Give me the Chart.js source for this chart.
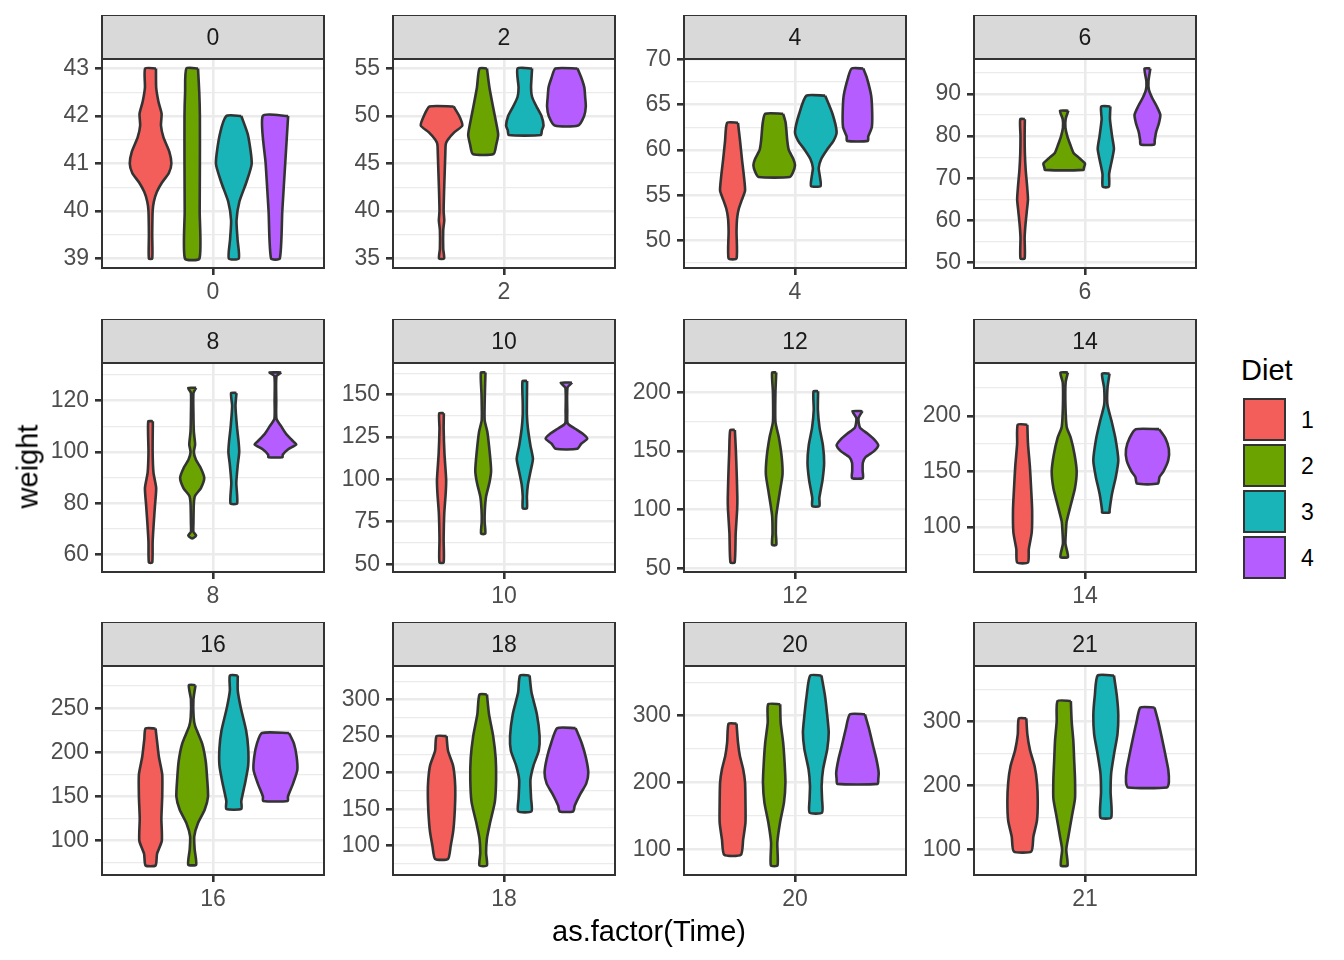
<!DOCTYPE html>
<html>
<head>
<meta charset="utf-8">
<script src="https://cdn.jsdelivr.net/npm/chart.js@4.4.1/dist/chart.umd.min.js"></script>
<style>
  body { margin: 0; background: #fff; width: 1344px; height: 960px; position: relative; overflow: hidden;
         font-family: "Liberation Sans", Arial, Helvetica, sans-serif; }
  canvas { position: absolute; }
  .txt { position: absolute; white-space: nowrap; color: #000; }
  .key { position: absolute; box-sizing: border-box; border: 2.5px solid #333; }
</style>
</head>
<body>
<script>
const times = [0, 2, 4, 6, 8, 10, 12, 14, 16, 18, 20, 21];
const diets = ['1', '2', '3', '4'];
const dietColors = ['#F35E5A', '#6BA300', '#18B4B8', '#B55DFF'];

// major y breaks, one list per facet
const yBreaks = [
  [39, 40, 41, 42, 43], [35, 40, 45, 50, 55], [50, 55, 60, 65, 70], [50, 60, 70, 80, 90],
  [60, 80, 100, 120], [50, 75, 100, 125, 150], [50, 100, 150, 200], [100, 150, 200],
  [100, 150, 200, 250], [100, 150, 200, 250, 300], [100, 200, 300], [100, 200, 300]
];

// violin outlines: [weight, relative half width], top to bottom, diets 1..4
const t0 = [
  [[43, .26], [42.6, .27], [42.3, .38], [42.05, .53], [41.8, .5], [41.55, .62], [41.25, .9], [41, 1], [40.8, .88], [40.6, .55], [40.4, .3], [40.2, .16], [40, .1], [39.5, .08], [39, .08]],
  [[43, .28], [42.5, .34], [42, .37], [41, .37], [40, .36], [39, .35]],
  [[42, .36], [41.6, .68], [41, .86], [40.6, .6], [40.2, .27], [39.8, .13], [39.4, .18], [39, .24]],
  [[42, .61], [41, .47], [40, .33], [39, .21]]
];
const t2 = [
  [[51, .58], [50, .85], [49, 1], [48.3, .62], [47.5, .3], [47, .2], [46, .18], [44, .15], [42, .12], [40, .1], [39, .13], [38, .08], [36, .08], [35, .12]],
  [[55, .18], [53, .3], [51, .47], [49, .65], [48, .72], [47, .63], [46, .5]],
  [[55, .35], [53, .3], [52, .35], [51, .56], [50, .8], [49, .9], [48.5, .82], [48, .77]],
  [[55, .53], [54, .72], [53, .86], [52, .9], [51, .93], [50, .85], [49, .56]]
];
const t4 = [
  [[63, .26], [61, .36], [59, .45], [57, .55], [55.5, .6], [54.5, .45], [53.5, .3], [52.5, .22], [51, .19], [48, .19]],
  [[64, .43], [63, .55], [61, .63], [60, .7], [59, .92], [58.3, 1], [57.5, .9], [57, .75]],
  [[66, .45], [64, .8], [62, 1], [61, .85], [60, .53], [59, .26], [58, .14], [57, .2], [56, .23]],
  [[69, .28], [68, .45], [66, .66], [64, .71], [62.5, .69], [61.5, .52], [61, .5]]
];
const t6 = [
  [[84, .11], [80, .1], [76, .11], [72, .15], [68, .22], [65, .26], [62, .2], [59, .14], [56, .1], [51, .1]],
  [[86, .2], [84, .07], [82, .06], [80, .15], [78, .29], [76, .45], [75, .68], [73.5, 1], [72.5, .95], [72, .93]],
  [[87, .22], [84, .2], [80, .3], [77, .39], [74, .28], [71, .16], [68, .15]],
  [[96, .14], [93, .05], [91, .07], [89, .23], [87, .45], [85, .62], [83, .55], [81, .42], [79, .35], [78, .33]]
];
const t8 = [
  [[112, .11], [100, .1], [92, .14], [86, .27], [80, .22], [72, .15], [65, .1], [57, .08]],
  [[125, .19], [123, .06], [115, .06], [108, .08], [103, .14], [100, .08], [97, .18], [94, .4], [90, .58], [86, .42], [83, .14], [80, .08], [72, .06], [69, .06], [67.5, .19], [66.5, .05]],
  [[123, .13], [118, .08], [110, .15], [104, .23], [100, .26], [95, .19], [88, .12], [80, .16]],
  [[131, .28], [129.5, .05], [120, .04], [113, .05], [110, .28], [107, .52], [104, .88], [103, 1], [101, .6], [99, .35], [98, .34]]
];
const t10 = [
  [[139, .11], [130, .1], [115, .14], [100, .22], [92, .2], [80, .13], [65, .1], [51, .1]],
  [[163, .11], [150, .08], [135, .07], [128, .2], [115, .32], [105, .38], [98, .3], [90, .14], [82, .08], [75, .07], [68, .1]],
  [[158, .11], [145, .1], [138, .1], [130, .15], [120, .27], [112, .39], [105, .28], [97, .15], [90, .1], [83, .1]],
  [[157, .27], [154, .05], [140, .04], [133, .06], [130, .4], [127, .77], [124, 1], [121, .71], [118, .52]]
];
const t12 = [
  [[168, .11], [150, .16], [130, .2], [110, .23], [100, .22], [80, .15], [55, .1]],
  [[217, .1], [200, .06], [175, .06], [162, .22], [145, .36], [130, .4], [115, .27], [95, .1], [80, .08], [70, .1]],
  [[201, .11], [185, .1], [170, .18], [155, .34], [140, .4], [125, .32], [110, .17], [103, .17]],
  [[184, .24], [178, .05], [170, .12], [165, .48], [160, .8], [155, 1], [150, .8], [145, .4], [140, .26], [133, .25], [127, .26]]
];
const t14 = [
  [[192, .23], [175, .26], [155, .35], [135, .41], [115, .46], [95, .44], [80, .3], [68, .26]],
  [[239, .18], [230, .07], [210, .06], [190, .12], [180, .32], [165, .5], [150, .6], [135, .52], [120, .32], [105, .12], [95, .08], [85, .06], [73, .18]],
  [[238, .18], [225, .08], [210, .08], [195, .28], [180, .46], [160, .6], [145, .48], [130, .3], [115, .18], [113, .18]],
  [[188, .56], [180, .86], [170, 1.03], [160, 1], [150, .77], [145, .58], [139, .5]]
];
const t16 = [
  [[227, .24], [215, .3], [195, .4], [175, .56], [150, .56], [125, .52], [100, .54], [85, .31], [72, .24]],
  [[276, .16], [260, .06], [240, .07], [230, .14], [210, .48], [190, .65], [170, .72], [150, .76], [135, .6], [120, .28], [105, .1], [90, .12], [73, .19]],
  [[287, .19], [270, .19], [250, .34], [225, .59], [205, .69], [185, .69], [165, .54], [145, .36], [136, .36]],
  [[222, .65], [210, .89], [195, 1.02], [180, 1.05], [165, .85], [150, .6], [145, .59]]
];
const t18 = [
  [[250, .24], [230, .31], [210, .55], [190, .64], [170, .66], [140, .62], [120, .56], [100, .44], [82, .31]],
  [[307, .18], [280, .28], [250, .48], [220, .6], [190, .62], [160, .56], [130, .32], [110, .18], [90, .14], [73, .18]],
  [[333, .23], [310, .32], [280, .58], [250, .71], [230, .67], [210, .42], [190, .27], [165, .3], [147, .32]],
  [[261, .44], [240, .74], [220, .94], [200, 1.05], [185, .95], [170, .65], [155, .4], [147, .32]]
];
const t20 = [
  [[288, .19], [260, .26], [240, .35], [220, .51], [200, .6], [170, .62], [140, .62], [115, .51], [92, .4]],
  [[317, .29], [290, .31], [260, .43], [230, .5], [200, .54], [170, .47], [140, .28], [110, .15], [76, .16]],
  [[360, .27], [330, .44], [300, .55], [275, .62], [250, .55], [220, .35], [195, .28], [175, .3], [155, .3]],
  [[302, .36], [280, .56], [255, .75], [235, .91], [215, 1.02], [205, 1], [198, .97]]
];
const t21 = [
  [[305, .18], [280, .23], [255, .36], [230, .58], [205, .69], [175, .73], [145, .69], [120, .52], [97, .42]],
  [[332, .32], [300, .36], [270, .44], [240, .48], [210, .52], [180, .52], [150, .36], [120, .2], [100, .1], [75, .16]],
  [[372, .39], [340, .53], [310, .6], [280, .56], [250, .4], [220, .26], [190, .23], [150, .26]],
  [[322, .34], [300, .52], [275, .69], [250, .85], [225, 1], [205, 1.03], [197, .94]]
];
const violins = [t0, t2, t4, t6, t8, t10, t12, t14, t16, t18, t20, t21];

// layout
const FONT = '"Liberation Sans", Arial, Helvetica, sans-serif';
const panelLeft = [102, 393, 684, 974];
const stripTop = [15, 319, 622];
const panelW = 221, panelH = 209, stripH = 44, axisW = 62, axisH = 42;
const dodge = 0.225;         // 0.9 / 4 diets
const halfMax = dodge / 2;

function outline(prof, cx) {
  const right = prof.map(p => ({ x: cx + p[1] * halfMax, y: p[0] }));
  const left = prof.slice().reverse().map(p => ({ x: cx - p[1] * halfMax, y: p[0] }));
  return right.concat(left, [right[0]]);
}

function minorBreaks(b, lo, hi) {
  const step = b[1] - b[0];
  const out = [];
  for (let v = b[0] - step / 2; v <= hi; v += step) if (v >= lo) out.push(v);
  return out;
}

const panelDeco = {
  id: 'panelDeco',
  afterDraw(chart, args, opts) {
    const { ctx, chartArea: a } = chart;
    ctx.save();
    ctx.lineWidth = 2;
    ctx.strokeStyle = '#333333';
    ctx.strokeRect(a.left, a.top, a.right - a.left, a.bottom - a.top);
    ctx.fillStyle = '#D9D9D9';
    ctx.fillRect(a.left, a.top - stripH, a.right - a.left, stripH);
    ctx.strokeRect(a.left, a.top - stripH, a.right - a.left, stripH);
    ctx.fillStyle = '#1A1A1A';
    ctx.font = '23px ' + FONT;
    ctx.textAlign = 'center';
    ctx.textBaseline = 'middle';
    ctx.fillText(opts.title, (a.left + a.right) / 2, a.top - stripH / 2 + 2);
    ctx.restore();
  }
};

times.forEach((t, k) => {
  const col = k % 4, row = Math.floor(k / 4);
  const canvas = document.createElement('canvas');
  canvas.width = axisW + panelW + 2;
  canvas.height = stripH + panelH + axisH;
  canvas.style.left = (panelLeft[col] - axisW) + 'px';
  canvas.style.top = stripTop[row] + 'px';
  document.body.appendChild(canvas);

  const all = violins[k].flat().map(p => p[0]);
  const lo0 = Math.min(...all), hi0 = Math.max(...all), pad = (hi0 - lo0) * 0.05;
  const yMin = lo0 - pad, yMax = hi0 + pad;
  const majors = yBreaks[k];
  const yTicks = majors.concat(minorBreaks(majors, yMin, yMax)).sort((a, b) => a - b);
  const isMajor = v => majors.includes(v);

  new Chart(canvas, {
    type: 'line',
    data: {
      datasets: diets.map((d, i) => ({
        label: d,
        data: outline(violins[k][i], 1 + (i - 1.5) * dodge),
        borderColor: '#333333',
        borderWidth: 2.6,
        backgroundColor: dietColors[i],
        fill: 'shape',
        pointRadius: 0,
        tension: 0.2
      }))
    },
    options: {
      responsive: false,
      animation: false,
      layout: { padding: { top: stripH, right: 1, left: 0, bottom: 0 } },
      plugins: { legend: { display: false }, tooltip: { enabled: false }, panelDeco: { title: String(t) } },
      scales: {
        x: {
          type: 'linear', min: 0.4, max: 1.6,
          afterBuildTicks: s => { s.ticks = [{ value: 1 }]; },
          afterFit: s => { s.height = axisH; },
          ticks: { callback: () => String(t), color: '#4D4D4D', font: { size: 23, family: FONT }, padding: 4, maxRotation: 0 },
          grid: { color: '#EBEBEB', lineWidth: 2.6, tickLength: 7, tickColor: '#333333', tickWidth: 2.6 },
          border: { display: false }
        },
        y: {
          type: 'linear', min: yMin, max: yMax,
          afterBuildTicks: s => { s.ticks = yTicks.map(v => ({ value: v })); },
          afterFit: s => { s.width = axisW; },
          ticks: { autoSkip: false, callback: v => isMajor(v) ? String(v) : '', color: '#4D4D4D', font: { size: 23, family: FONT }, padding: 6 },
          grid: {
            color: '#EBEBEB',
            lineWidth: c => (c.tick && isMajor(c.tick.value)) ? 2.6 : 1.3,
            tickLength: 7,
            tickColor: c => (c.tick && isMajor(c.tick.value)) ? '#333333' : 'rgba(0,0,0,0)',
            tickWidth: 2.6
          },
          border: { display: false }
        }
      }
    },
    plugins: [panelDeco]
  });
});

// axis titles
function addText(str, css) {
  const el = document.createElement('div');
  el.className = 'txt';
  el.textContent = str;
  Object.assign(el.style, css);
  document.body.appendChild(el);
  return el;
}
addText('as.factor(Time)', { left: '449px', width: '400px', textAlign: 'center', top: '917px', fontSize: '29px', lineHeight: '29px' });
addText('weight', { left: '-72px', width: '200px', textAlign: 'center', top: '452px', fontSize: '29px', lineHeight: '29px', transform: 'rotate(-90deg)' });

// legend
addText('Diet', { left: '1241px', top: '356px', fontSize: '29px', lineHeight: '29px' });
diets.forEach((d, i) => {
  const key = document.createElement('div');
  key.className = 'key';
  Object.assign(key.style, { left: '1243px', top: (398 + i * 46) + 'px', width: '43px', height: '43px', background: dietColors[i] });
  document.body.appendChild(key);
  addText(d, { left: '1301px', top: (398 + i * 46 + 11) + 'px', fontSize: '23px', lineHeight: '23px' });
});
</script>
</body>
</html>
